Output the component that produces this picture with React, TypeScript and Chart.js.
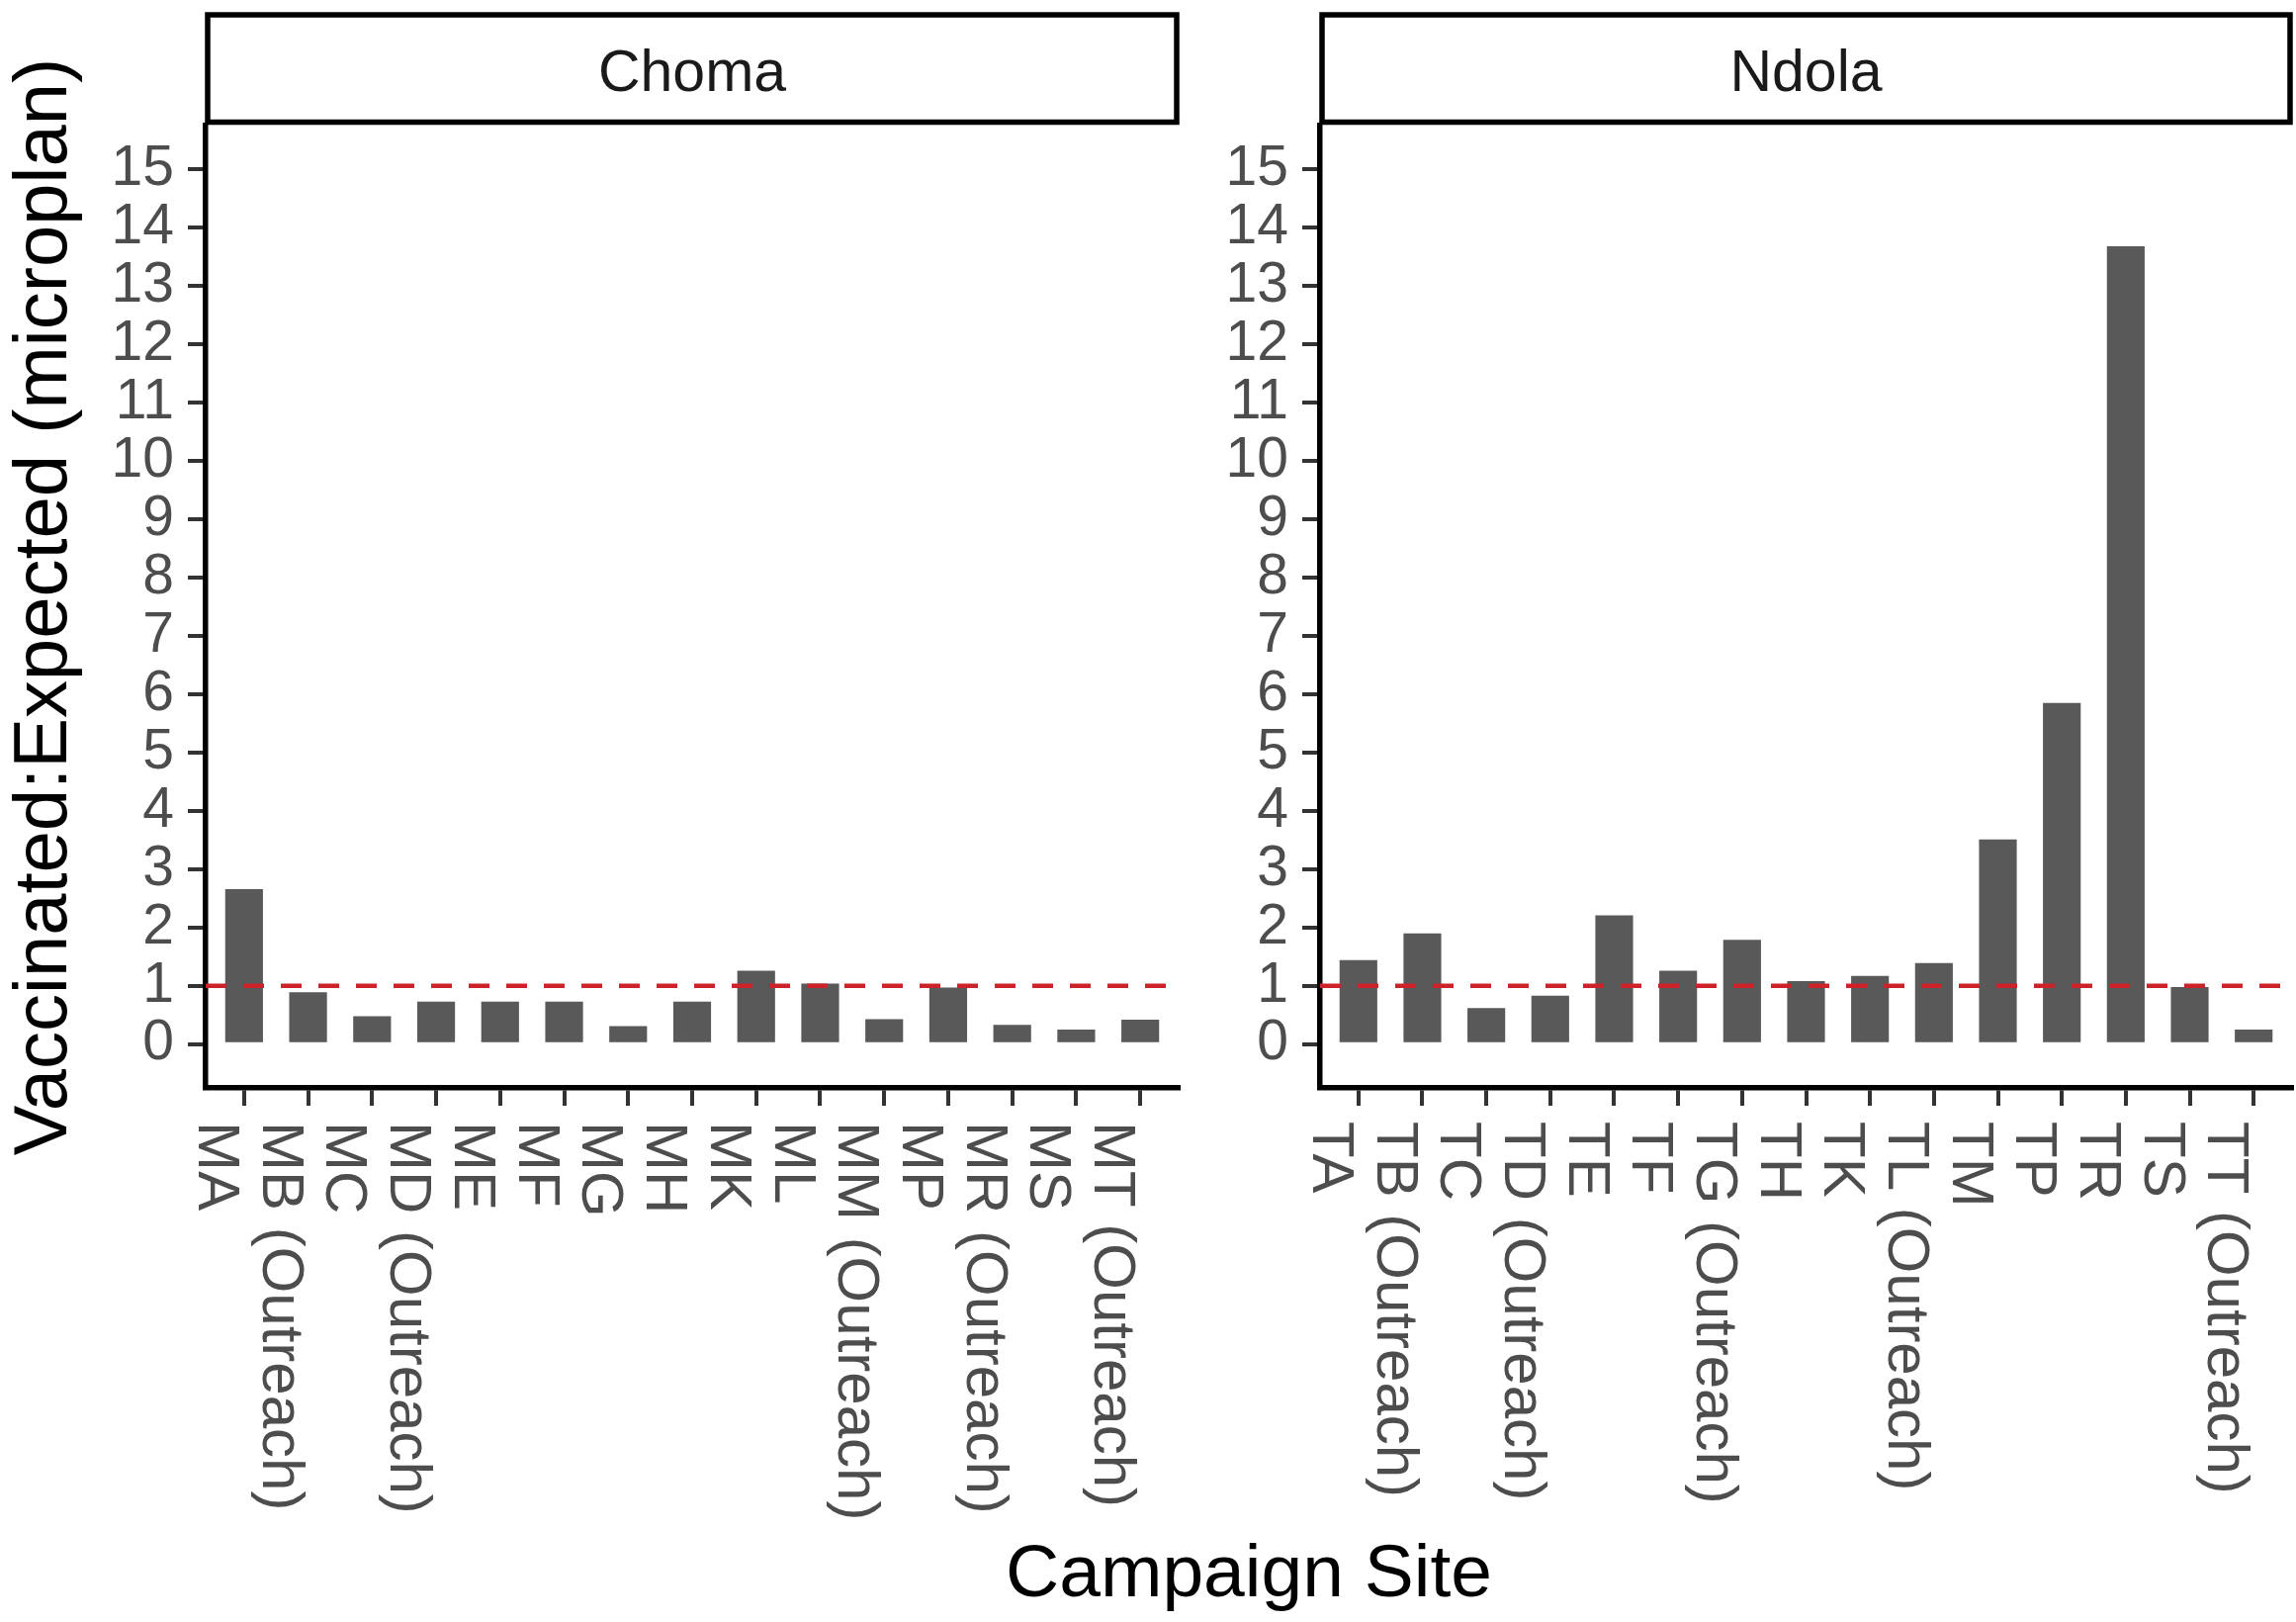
import React, { useEffect, useRef } from "react";
import { Chart, registerables } from "chart.js";

Chart.register(...registerables);

const FONT = '"Liberation Sans", Arial, Helvetica, sans-serif';

// ---- data ----
const chomaSites = [
  "MA", "MB (Outreach)", "MC", "MD (Outreach)", "ME", "MF", "MG", "MH",
  "MK", "ML", "MM (Outreach)", "MP", "MR (Outreach)", "MS", "MT (Outreach)",
];
const chomaRatios = [2.66, 0.89, 0.48, 0.73, 0.73, 0.73, 0.31, 0.73, 1.26, 1.04, 0.43, 0.97, 0.33, 0.25, 0.42];

const ndolaSites = [
  "TA", "TB (Outreach)", "TC", "TD (Outreach)", "TE", "TF", "TG (Outreach)", "TH",
  "TK", "TL (Outreach)", "TM", "TP", "TR", "TS", "TT (Outreach)",
];
const ndolaRatios = [1.44, 1.9, 0.62, 0.83, 2.21, 1.26, 1.79, 1.08, 1.17, 1.39, 3.51, 5.85, 13.68, 0.98, 0.25];

const yTickValues = [0, 1, 2, 3, 4, 5, 6, 7, 8, 9, 10, 11, 12, 13, 14, 15];
const referenceRatio = 1;
const yMin = -0.75;
const yMax = 15.75;
const xExpand = 0.6;

const yTitle = "Vaccinated:Expected (microplan)";
const xTitle = "Campaign Site";

// ---- plugins ----
const stripPlugin = {
  id: "strip",
  afterDraw(chart: any, _args: any, opts: any) {
    const { ctx } = chart;
    const { left, right, top } = chart.chartArea;
    const y0 = 15;
    const y1 = top - 3.5;
    ctx.save();
    ctx.fillStyle = "#ffffff";
    ctx.fillRect(left + 2, y0, right - left - 4, y1 - y0);
    ctx.lineWidth = 5.5;
    ctx.strokeStyle = "#000000";
    ctx.strokeRect(left + 2, y0, right - left - 4, y1 - y0);
    const size = opts.size;
    ctx.font = `${size}px ${FONT}`;
    ctx.fillStyle = "#1A1A1A";
    ctx.textAlign = "center";
    ctx.textBaseline = "alphabetic";
    ctx.fillText(opts.text, (left + right) / 2, (y0 + y1) / 2 + size * 0.358 + 2);
    ctx.restore();
  },
};

const refLinePlugin = {
  id: "refLine",
  afterDatasetsDraw(chart: any, _args: any, opts: any) {
    const { ctx } = chart;
    const { left, right } = chart.chartArea;
    const y = chart.scales.y.getPixelForValue(opts.value);
    ctx.save();
    ctx.strokeStyle = "#CC2229";
    ctx.lineWidth = 4.5;
    ctx.setLineDash([21, 17]);
    ctx.beginPath();
    ctx.moveTo(left, y);
    ctx.lineTo(right, y);
    ctx.stroke();
    ctx.restore();
  },
};

const xLabelPlugin = {
  id: "xLabels",
  afterDraw(chart: any, _args: any, opts: any) {
    const { ctx } = chart;
    const xs = chart.scales.x;
    const labels: string[] = opts.labels;
    const size = opts.size;
    const capH = size * 0.716;
    const top = chart.chartArea.bottom + 34;
    ctx.save();
    ctx.font = `${size}px ${FONT}`;
    ctx.fillStyle = "#4D4D4D";
    ctx.textAlign = "left";
    ctx.textBaseline = "alphabetic";
    labels.forEach((lab, i) => {
      const px = xs.getPixelForValue(i);
      ctx.save();
      ctx.translate(px - 3, top);
      ctx.rotate(Math.PI / 2);
      ctx.fillText(lab, 0, capH);
      ctx.restore();
    });
    ctx.restore();
  },
};

type PanelProps = {
  title: string;
  sites: string[];
  ratios: number[];
  showYTitle: boolean;
  yAxisWidth: number;
  left: number;
  width: number;
  padRight: number;
};

function Panel(props: PanelProps) {
  const ref = useRef<HTMLCanvasElement | null>(null);
  const height = 1640;
  const chartBottom = 1100;

  useEffect(() => {
    if (!ref.current) return;
    const { sites, ratios } = props;
    const chart = new Chart(ref.current, {
      type: "bar",
      data: {
        datasets: [
          {
            data: ratios.map((v, i) => ({ x: i, y: v })),
            backgroundColor: "#595959",
            borderWidth: 0,
            categoryPercentage: 1,
            barPercentage: 0.59,
          } as any,
        ],
      },
      plugins: [stripPlugin, refLinePlugin, xLabelPlugin],
      options: {
        animation: false,
        responsive: false,
        devicePixelRatio: 1,
        events: [],
        layout: { padding: { top: 127, right: props.padRight, bottom: 0, left: 0 } },
        plugins: {
          legend: { display: false },
          tooltip: { enabled: false },
          strip: { text: props.title, size: 59 },
          refLine: { value: referenceRatio },
          xLabels: { labels: sites, size: 60 },
        } as any,
        scales: {
          x: {
            type: "linear",
            min: -xExpand,
            max: sites.length - 1 + xExpand,
            offset: false,
            afterBuildTicks: (scale: any) => {
              scale.ticks = sites.map((_, i) => ({ value: i }));
            },
            afterFit: (scale: any) => {
              scale.height = height - chartBottom;
            },
            ticks: { display: false, autoSkip: false },
            grid: {
              display: true,
              drawOnChartArea: false,
              drawTicks: true,
              tickLength: 18,
              color: "#333333",
              lineWidth: 4,
              offset: false,
            },
            border: { display: true, color: "#000000", width: 5.5 },
          },
          y: {
            type: "linear",
            min: yMin,
            max: yMax,
            afterBuildTicks: (scale: any) => {
              scale.ticks = yTickValues.map((v) => ({ value: v }));
            },
            afterFit: (scale: any) => {
              scale.width = props.yAxisWidth;
            },
            ticks: {
              autoSkip: false,
              color: "#4D4D4D",
              font: { size: 57, family: FONT, lineHeight: 1 },
              padding: 14,
            },
            grid: {
              display: true,
              drawOnChartArea: false,
              drawTicks: true,
              tickLength: 18,
              color: "#333333",
              lineWidth: 4,
            },
            border: { display: true, color: "#000000", width: 5.5 },
            title: {
              display: props.showYTitle,
              text: yTitle,
              color: "#000000",
              font: { size: 76, family: FONT, lineHeight: 1 },
              padding: { top: 8, bottom: 0 },
            },
          },
        },
      } as any,
    });
    return () => chart.destroy();
  }, []);

  return (
    <canvas
      ref={ref}
      width={props.width}
      height={height}
      style={{
        position: "absolute",
        left: props.left,
        top: 0,
        width: props.width,
        height: height,
      }}
    />
  );
}

export default function App() {
  return (
    <div
      style={{
        position: "fixed",
        left: 0,
        top: 0,
        width: 2322,
        height: 1640,
        background: "#ffffff",
        overflow: "hidden",
        fontFamily: FONT,
      }}
    >
      <Panel
        title="Choma"
        sites={chomaSites}
        ratios={chomaRatios}
        showYTitle={true}
        yAxisWidth={208}
        left={0}
        width={1200}
        padRight={8}
      />
      <Panel
        title="Ndola"
        sites={ndolaSites}
        ratios={ndolaRatios}
        showYTitle={false}
        yAxisWidth={135}
        left={1200}
        width={1122}
        padRight={4}
      />
      <div
        style={{
          position: "absolute",
          left: 1263 - 600,
          width: 1200,
          top: 1551,
          fontSize: 75,
          lineHeight: "75px",
          textAlign: "center",
          color: "#000000",
          whiteSpace: "nowrap",
        }}
      >
        {xTitle}
      </div>
    </div>
  );
}
